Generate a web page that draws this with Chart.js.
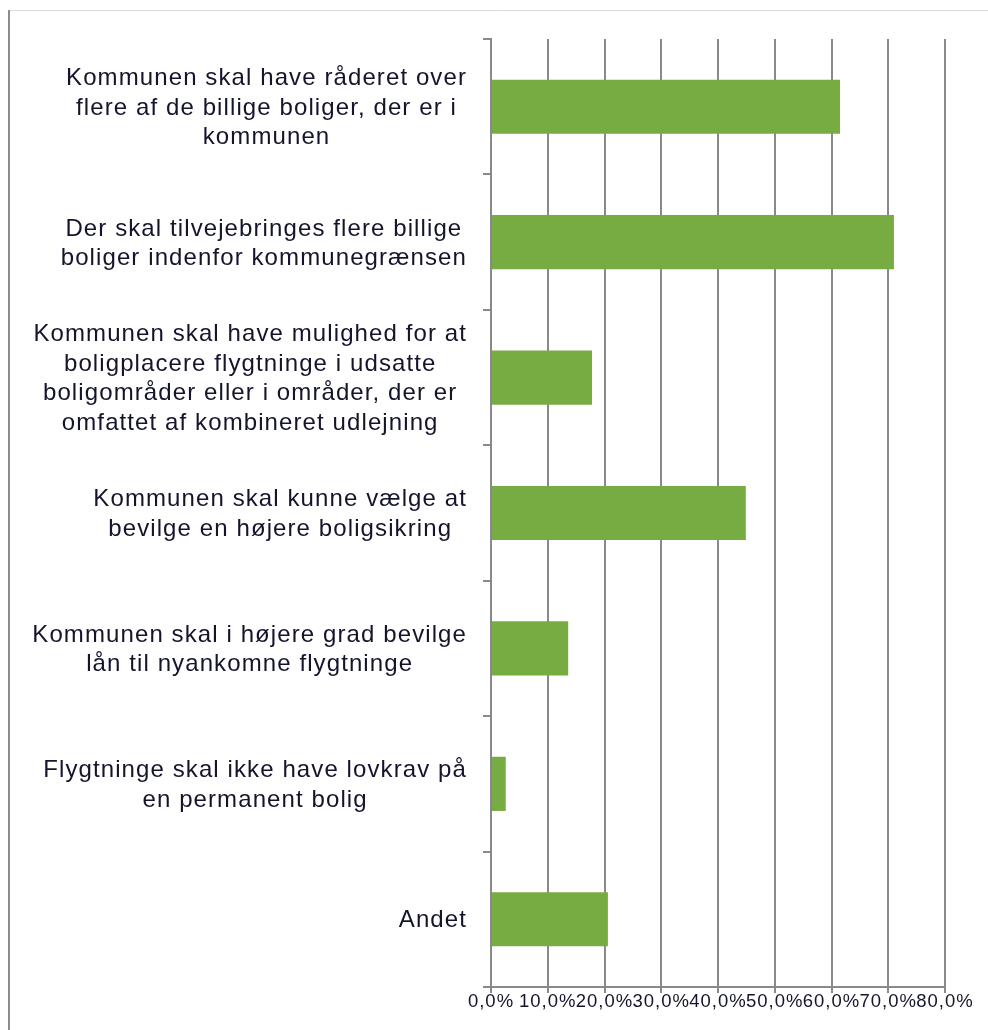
<!DOCTYPE html>
<html>
<head>
<meta charset="utf-8">
<script src="https://cdn.jsdelivr.net/npm/chart.js@4"></script>
<style>
html,body{margin:0;padding:0;background:#fff;}
#wrap{width:988px;height:1030px;position:relative;}
canvas{display:block;}
</style>
</head>
<body>
<div id="wrap"><canvas id="c" width="988" height="1030"></canvas></div>
<script>
const categories = [
  ["Kommunen skal have råderet over", "flere af de billige boliger, der er i", "kommunen"],
  ["Der skal tilvejebringes flere billige", "boliger indenfor kommunegrænsen"],
  ["Kommunen skal have mulighed for at", "boligplacere flygtninge i udsatte", "boligområder eller i områder, der er", "omfattet af kombineret udlejning"],
  ["Kommunen skal kunne vælge at", "bevilge en højere boligsikring"],
  ["Kommunen skal i højere grad bevilge", "lån til nyankomne flygtninge"],
  ["Flygtninge skal ikke have lovkrav på", "en permanent bolig"],
  ["Andet"]
];
const values = [61.5, 71.0, 17.8, 44.9, 13.6, 2.6, 20.6];
const xTickLabels = ["0,0%", "10,0%", "20,0%", "30,0%", "40,0%", "50,0%", "60,0%", "70,0%", "80,0%"];

const FONT = '"Liberation Sans", Arial, sans-serif';
const TEXT = '#14142c';
const GRID = '#898989';
const BAR = '#77ac42';

const framePlugin = {
  id: 'frame',
  beforeDraw(chart) {
    const ctx = chart.ctx;
    ctx.save();
    ctx.fillStyle = '#ffffff';
    ctx.fillRect(0, 0, chart.width, chart.height);
    ctx.strokeStyle = '#d9d9d9';
    ctx.lineWidth = 1;
    ctx.beginPath();
    ctx.moveTo(9, 10.5);
    ctx.lineTo(chart.width, 10.5);
    ctx.stroke();
    ctx.strokeStyle = '#8c8c8c';
    ctx.lineWidth = 2;
    ctx.beginPath();
    ctx.moveTo(9, 10);
    ctx.lineTo(9, chart.height);
    ctx.stroke();
    ctx.restore();
    ctx.letterSpacing = '1px';
  },
  afterDraw(chart) {
    const ctx = chart.ctx;
    const yScale = chart.scales.y;
    ctx.save();
    ctx.font = '24px ' + FONT;
    ctx.letterSpacing = '1.1px';
    ctx.fillStyle = TEXT;
    ctx.textBaseline = 'middle';
    ctx.textAlign = 'center';
    const lineH = 29.5;
    const labelRight = yScale.right - 24;
    chart.data.labels.forEach((lines, i) => {
      const y = yScale.getPixelForValue(i);
      const widest = Math.max(...lines.map(l => ctx.measureText(l).width));
      const cx = labelRight - widest / 2;
      const n = lines.length;
      lines.forEach((l, j) => {
        ctx.fillText(l, cx, y + (j - (n - 1) / 2) * lineH + 1.5);
      });
    });
    ctx.restore();
    ctx.letterSpacing = '0px';
  }
};

new Chart(document.getElementById('c'), {
  type: 'bar',
  data: {
    labels: categories,
    datasets: [{
      data: values,
      backgroundColor: BAR,
      borderWidth: 0,
      barPercentage: 0.4,
      categoryPercentage: 1.0
    }]
  },
  options: {
    indexAxis: 'y',
    responsive: false,
    animation: false,
    devicePixelRatio: 1,
    layout: { padding: { top: 39, right: 43, left: 0, bottom: 0 } },
    plugins: { legend: { display: false }, tooltip: { enabled: false } },
    scales: {
      x: {
        type: 'linear',
        min: 0,
        max: 80,
        ticks: {
          stepSize: 10,
          autoSkip: false,
          maxRotation: 0,
          minRotation: 0,
          color: TEXT,
          padding: 0,
          font: { family: FONT, size: 18.5, lineHeight: 1 },
          callback: (v, i) => xTickLabels[i]
        },
        grid: { color: GRID, lineWidth: 2, drawTicks: true, tickLength: 6 },
        border: { display: true, color: GRID, width: 2 },
        afterFit(s) { s.height = 43; }
      },
      y: {
        type: 'category',
        offset: true,
        z: 1,
        ticks: { display: false },
        grid: { drawOnChartArea: false, drawTicks: true, tickLength: 8, color: GRID, lineWidth: 2, offset: true },
        border: { display: true, color: GRID, width: 2 },
        afterFit(s) { s.width = 491; }
      }
    }
  },
  plugins: [framePlugin]
});
</script>
</body>
</html>
